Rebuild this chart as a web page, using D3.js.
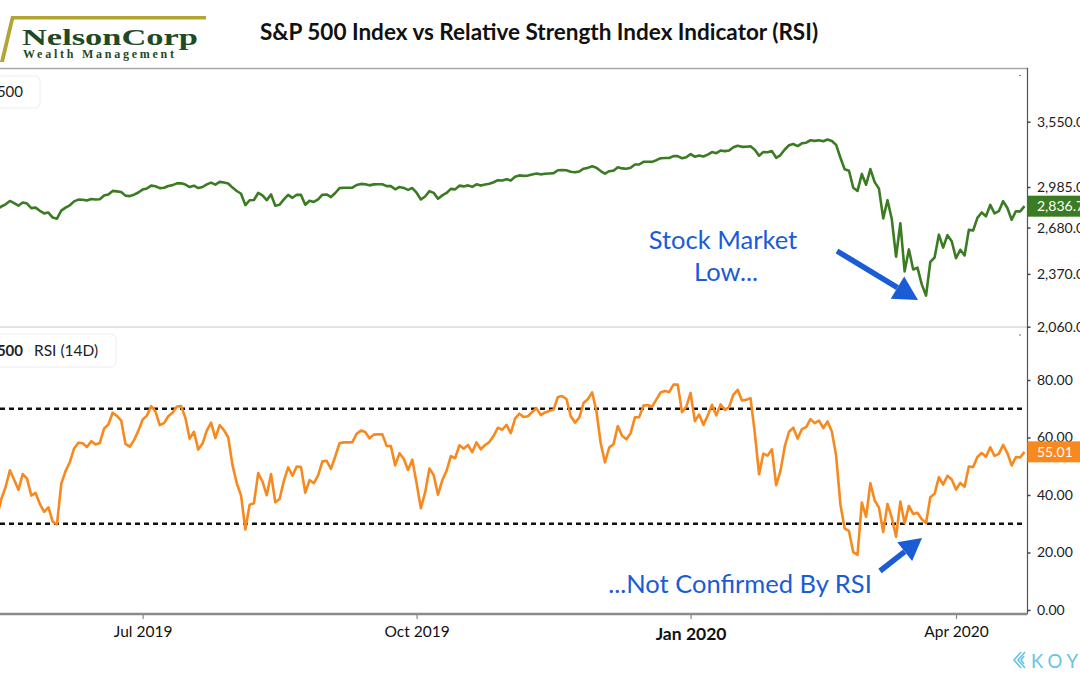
<!DOCTYPE html>
<html><head><meta charset="utf-8">
<script src="https://cdn.jsdelivr.net/npm/d3@7"></script>
<style>
html,body{margin:0;padding:0;background:#fff;}
svg{display:block;font-family:Lato,'Open Sans',sans-serif;}
</style>
</head><body>
<script>
// ---------- DATA ----------
const dates = [
"2019-05-08","2019-05-09","2019-05-10","2019-05-13","2019-05-14","2019-05-15","2019-05-16","2019-05-17","2019-05-20","2019-05-21","2019-05-22","2019-05-23","2019-05-24","2019-05-28","2019-05-29","2019-05-30","2019-05-31",
"2019-06-03","2019-06-04","2019-06-05","2019-06-06","2019-06-07","2019-06-10","2019-06-11","2019-06-12","2019-06-13","2019-06-14","2019-06-17","2019-06-18","2019-06-19","2019-06-20","2019-06-21","2019-06-24","2019-06-25","2019-06-26","2019-06-27","2019-06-28",
"2019-07-01","2019-07-02","2019-07-03","2019-07-05","2019-07-08","2019-07-09","2019-07-10","2019-07-11","2019-07-12","2019-07-15","2019-07-16","2019-07-17","2019-07-18","2019-07-19","2019-07-22","2019-07-23","2019-07-24","2019-07-25","2019-07-26","2019-07-29","2019-07-30","2019-07-31",
"2019-08-01","2019-08-02","2019-08-05","2019-08-06","2019-08-07","2019-08-08","2019-08-09","2019-08-12","2019-08-13","2019-08-14","2019-08-15","2019-08-16","2019-08-19","2019-08-20","2019-08-21","2019-08-22","2019-08-23","2019-08-26","2019-08-27","2019-08-28","2019-08-29","2019-08-30",
"2019-09-03","2019-09-04","2019-09-05","2019-09-06","2019-09-09","2019-09-10","2019-09-11","2019-09-12","2019-09-13","2019-09-16","2019-09-17","2019-09-18","2019-09-19","2019-09-20","2019-09-23","2019-09-24","2019-09-25","2019-09-26","2019-09-27","2019-09-30",
"2019-10-01","2019-10-02","2019-10-03","2019-10-04","2019-10-07","2019-10-08","2019-10-09","2019-10-10","2019-10-11","2019-10-14","2019-10-15","2019-10-16","2019-10-17","2019-10-18","2019-10-21","2019-10-22","2019-10-23","2019-10-24","2019-10-25","2019-10-28","2019-10-29","2019-10-30","2019-10-31",
"2019-11-01","2019-11-04","2019-11-05","2019-11-06","2019-11-07","2019-11-08","2019-11-11","2019-11-12","2019-11-13","2019-11-14","2019-11-15","2019-11-18","2019-11-19","2019-11-20","2019-11-21","2019-11-22","2019-11-25","2019-11-26","2019-11-27","2019-11-29",
"2019-12-02","2019-12-03","2019-12-04","2019-12-05","2019-12-06","2019-12-09","2019-12-10","2019-12-11","2019-12-12","2019-12-13","2019-12-16","2019-12-17","2019-12-18","2019-12-19","2019-12-20","2019-12-23","2019-12-24","2019-12-26","2019-12-27","2019-12-30","2019-12-31",
"2020-01-02","2020-01-03","2020-01-06","2020-01-07","2020-01-08","2020-01-09","2020-01-10","2020-01-13","2020-01-14","2020-01-15","2020-01-16","2020-01-17","2020-01-21","2020-01-22","2020-01-23","2020-01-24","2020-01-27","2020-01-28","2020-01-29","2020-01-30","2020-01-31",
"2020-02-03","2020-02-04","2020-02-05","2020-02-06","2020-02-07","2020-02-10","2020-02-11","2020-02-12","2020-02-13","2020-02-14","2020-02-18","2020-02-19","2020-02-20","2020-02-21","2020-02-24","2020-02-25","2020-02-26","2020-02-27","2020-02-28",
"2020-03-02","2020-03-03","2020-03-04","2020-03-05","2020-03-06","2020-03-09","2020-03-10","2020-03-11","2020-03-12","2020-03-13","2020-03-16","2020-03-17","2020-03-18","2020-03-19","2020-03-20","2020-03-23","2020-03-24","2020-03-25","2020-03-26","2020-03-27","2020-03-30","2020-03-31",
"2020-04-01","2020-04-02","2020-04-03","2020-04-06","2020-04-07","2020-04-08","2020-04-09","2020-04-13","2020-04-14","2020-04-15","2020-04-16","2020-04-17","2020-04-20","2020-04-21","2020-04-22","2020-04-23","2020-04-24"];

const spxClose = [
2879.42,2870.72,2881.40,2811.87,2834.41,2850.96,2876.32,2859.53,2840.23,2864.36,2856.27,2822.24,2826.06,2802.39,2783.02,2788.86,2752.06,
2744.45,2803.27,2826.15,2843.49,2873.34,2886.73,2885.72,2879.84,2891.64,2886.98,2889.67,2917.75,2926.46,2954.18,2950.46,2945.35,2917.38,2913.78,2924.92,2941.76,
2964.33,2973.01,2995.82,2990.41,2975.95,2979.63,2993.07,2999.91,3013.77,3014.30,3004.04,2984.42,2995.11,2976.61,2985.03,3005.47,3019.56,3003.67,3025.86,3020.97,3013.18,2980.38,
2953.56,2932.05,2844.74,2881.77,2883.98,2938.09,2918.65,2882.70,2926.32,2840.60,2847.60,2888.68,2923.65,2900.51,2924.43,2922.95,2847.11,2878.38,2869.16,2887.94,2924.58,2926.46,
2906.27,2937.78,2976.00,2978.71,2978.43,2979.39,3000.93,3009.57,3007.39,2997.96,3005.70,3006.73,3006.79,2992.07,2991.78,2966.60,2984.87,2977.62,2961.79,2976.74,
2940.25,2887.61,2910.63,2952.01,2938.79,2893.06,2919.40,2938.13,2970.27,2966.15,2995.68,2989.69,2997.95,2986.20,3006.72,2995.99,3004.52,3010.29,3022.55,3039.42,3036.89,3046.77,3037.56,
3066.91,3078.27,3074.62,3076.78,3085.18,3093.08,3087.01,3091.84,3094.04,3096.63,3120.46,3122.03,3120.18,3108.46,3103.54,3110.29,3133.64,3140.52,3153.63,3140.98,
3113.87,3093.20,3112.76,3117.43,3145.91,3135.96,3132.52,3141.63,3168.57,3168.80,3191.45,3192.52,3191.14,3205.37,3221.22,3224.01,3223.38,3239.91,3240.02,3221.29,3230.78,
3257.85,3234.85,3246.28,3237.18,3253.05,3274.70,3265.35,3288.13,3283.15,3289.29,3316.81,3329.62,3320.79,3321.75,3325.54,3295.47,3243.63,3276.24,3273.40,3283.66,3225.52,
3248.92,3297.59,3334.69,3345.78,3327.71,3352.09,3357.75,3379.45,3373.94,3380.16,3370.29,3386.15,3373.23,3337.75,3225.89,3128.21,3116.39,2978.76,2954.22,
3090.23,3003.37,3130.12,3023.94,2972.37,2746.56,2882.23,2741.38,2480.64,2711.02,2386.13,2529.19,2398.10,2409.39,2304.92,2237.40,2447.33,2475.56,2630.07,2541.47,2626.65,2584.59,
2470.50,2526.90,2488.65,2663.68,2659.41,2749.98,2789.82,2761.63,2846.06,2783.36,2799.55,2874.56,2823.16,2736.56,2799.31,2797.80,2836.74];

const rsi14 = [
44.4,42.3,45.7,32.3,38.6,42.8,48.6,45.3,41.8,47.3,45.7,39.8,
40.7,36.9,34.1,35.7,30.7,29.8,43.9,48.3,51.4,56.2,58.2,58.0,
56.7,58.7,57.6,58.1,63.1,64.5,68.6,67.5,65.9,57.8,56.8,59.1,
62.3,66.2,67.6,70.9,69.1,64.3,65.0,67.4,68.6,70.8,70.9,66.8,
59.6,62.0,55.8,57.9,62.4,65.2,59.8,64.3,62.6,60.0,50.4,44.1,
39.8,28.0,36.6,37.1,47.6,44.7,39.9,47.3,37.5,38.6,44.9,49.6,
46.7,49.9,49.7,40.8,45.2,44.1,46.8,51.7,51.9,49.1,53.4,58.0,
58.3,58.3,58.4,61.3,62.4,61.9,59.7,61.0,61.1,61.1,57.1,57.0,
50.3,54.5,52.6,48.7,52.3,44.1,35.4,40.9,49.2,46.9,40.1,45.1,
48.4,53.5,52.8,57.3,56.1,57.4,54.9,58.3,55.9,57.4,58.4,60.6,
63.4,62.7,64.4,61.5,66.6,68.3,67.1,67.4,68.9,70.2,67.8,68.7,
69.2,69.7,74.1,74.4,73.4,67.5,65.2,66.9,72.0,73.3,75.7,69.3,
58.1,51.3,56.5,57.7,64.0,60.6,59.4,61.5,67.0,67.1,71.1,71.3,
70.7,73.2,75.7,76.2,75.8,78.4,78.4,68.8,70.7,75.5,65.7,68.0,
64.4,67.6,71.4,67.7,71.5,69.6,70.6,74.9,76.6,72.9,73.1,73.7,
61.6,47.2,54.4,53.7,55.9,43.4,48.4,56.9,62.0,63.4,59.6,62.9,
63.6,66.4,65.0,65.9,63.3,65.6,62.1,53.7,36.7,28.3,27.5,20.1,
19.2,37.4,32.4,44.1,38.1,35.6,27.1,36.9,32.1,25.5,37.7,30.2,
36.2,33.4,33.8,31.6,30.2,39.2,40.4,46.2,43.6,46.7,45.4,41.9,
44.2,42.9,49.9,49.7,53.2,54.6,53.3,56.6,53.6,54.3,57.4,54.6,
50.3,53.2,53.1,55.01];

const priceTicks = [2060, 2370, 2680, 2985, 3550];
const rsiTicks = [0, 20, 40, 60, 80];
const rsiLevels = [70, 30];
const xTickDates = ["2019-07-01", "2019-10-01", "2020-01-02", "2020-04-01"];
const xTickLabels = ["Jul 2019", "Oct 2019", "Jan 2020", "Apr 2020"];
const xTickBold = [false, false, true, false];
const lastPriceLabel = "2,836.74";
const lastRsiLabel = "55.01";

// ---------- LAYOUT ----------
const W = 1080, H = 675;
const plotRight = 1027.5, top1 = 68.5, sep = 327, axisY = 614;
const green = "#3b7b23", orange = "#f7891f", annBlue = "#1a5bd6";

const svg = d3.select("body").append("svg").attr("width", W).attr("height", H);

const x = d3.scaleLinear().domain([0, dates.length - 1]).range([-15.8, 1024.5]);
const yP = d3.scaleLog().domain([2060, 3550]).range([326.7, 121.7]);
const yR = d3.scaleLinear().domain([0, 80]).range([610, 380]);

const defs = svg.append("defs");
defs.append("clipPath").attr("id", "clipTop").append("rect")
  .attr("x", 0).attr("y", top1).attr("width", plotRight).attr("height", sep - top1);
defs.append("clipPath").attr("id", "clipBot").append("rect")
  .attr("x", 0).attr("y", sep).attr("width", plotRight).attr("height", axisY - sep);

// ---------- LOGO ----------
const logo = svg.append("g");
logo.append("path")
  .attr("d", "M0,62 L11,16 L206,16 L206,19.5 L14,19.5 L4,62 Z")
  .attr("fill", "#b3a534");
logo.append("text").attr("x", 22).attr("y", 44.5)
  .attr("font-family", "'Liberation Serif','DejaVu Serif',serif").attr("font-weight", "bold")
  .attr("font-size", 24).attr("fill", "#1f4a26")
  .attr("textLength", 176).attr("lengthAdjust", "spacingAndGlyphs").text("NelsonCorp");
logo.append("text").attr("x", 23).attr("y", 58)
  .attr("font-family", "'Liberation Serif','DejaVu Serif',serif").attr("font-weight", "bold")
  .attr("font-size", 12).attr("fill", "#1f4a26")
  .attr("textLength", 151).attr("lengthAdjust", "spacing").text("Wealth Management");

// ---------- TITLE ----------
svg.append("text").attr("x", 539).attr("y", 40).attr("text-anchor", "middle")
  .attr("font-weight", "bold").attr("font-size", 22.5).attr("fill", "#111")
  .text("S&P 500 Index vs Relative Strength Index Indicator (RSI)");

// ---------- FRAME ----------
svg.append("line").attr("x1", 0).attr("x2", plotRight).attr("y1", top1).attr("y2", top1)
  .attr("stroke", "#a8a8a8").attr("stroke-width", 1.5);
svg.append("line").attr("x1", 0).attr("x2", plotRight).attr("y1", sep).attr("y2", sep)
  .attr("stroke", "#e2e2e2").attr("stroke-width", 2);
svg.append("line").attr("x1", plotRight).attr("x2", plotRight).attr("y1", top1 - 0.75).attr("y2", axisY)
  .attr("stroke", "#555").attr("stroke-width", 1.2);

// tiny corner dots
[top1 + 7, sep + 8].forEach(yy => svg.append("circle").attr("cx", 1020).attr("cy", yy).attr("r", 0.8).attr("fill", "#666"));

// ---------- LEGENDS ----------
svg.append("rect").attr("x", -60).attr("y", 76).attr("width", 100).attr("height", 32).attr("rx", 5)
  .attr("fill", "#fff").attr("stroke", "#ececec");
svg.append("text").attr("x", 23).attr("y", 97).attr("text-anchor", "end")
  .attr("font-size", 15).attr("fill", "#222").text("S&P 500");
svg.append("rect").attr("x", -60).attr("y", 334).attr("width", 176).attr("height", 33).attr("rx", 5)
  .attr("fill", "#fff").attr("stroke", "#ececec");
svg.append("text").attr("x", 23).attr("y", 356).attr("text-anchor", "end")
  .attr("font-size", 15).attr("font-weight", "bold").attr("fill", "#222").text("S&P 500");
svg.append("text").attr("x", 34).attr("y", 356)
  .attr("font-size", 15.5).attr("fill", "#222").text("RSI (14D)");

// ---------- RSI reference levels ----------
svg.append("g").attr("clip-path", "url(#clipBot)").selectAll("line").data(rsiLevels).join("line")
  .attr("x1", 0).attr("x2", 1022).attr("y1", d => yR(d)).attr("y2", d => yR(d))
  .attr("stroke", "#111").attr("stroke-width", 2.5).attr("stroke-dasharray", "5,4");

// ---------- LINES ----------
svg.append("path").datum(spxClose).attr("clip-path", "url(#clipTop)")
  .attr("fill", "none").attr("stroke", green).attr("stroke-width", 2.6).attr("stroke-linejoin", "round")
  .attr("d", d3.line().x((d, i) => x(i)).y(d => yP(d)));
svg.append("path").datum(rsi14).attr("clip-path", "url(#clipBot)")
  .attr("fill", "none").attr("stroke", orange).attr("stroke-width", 2.6).attr("stroke-linejoin", "round")
  .attr("d", d3.line().x((d, i) => x(i)).y(d => yR(d)));

// ---------- RIGHT AXES ----------
function styleAxis(g) {
  g.select(".domain").remove();
  g.selectAll(".tick line").attr("stroke", "#444").attr("stroke-width", 1.5);
  g.selectAll(".tick text").attr("font-size", 14).attr("fill", "#222")
    .attr("font-family", "Lato,'Open Sans',sans-serif");
}
svg.append("g").attr("transform", `translate(${plotRight},0)`)
  .call(d3.axisRight(yP).tickValues(priceTicks).tickFormat(d3.format(",.2f")).tickSize(3).tickPadding(6.5))
  .call(styleAxis);
svg.append("g").attr("transform", `translate(${plotRight},0)`)
  .call(d3.axisRight(yR).tickValues(rsiTicks).tickFormat(d3.format(".2f")).tickSize(3).tickPadding(6.5))
  .call(styleAxis);

// last value tags
const lastI = spxClose.length - 1;
const tagP = svg.append("g").attr("transform", `translate(${plotRight},${yP(spxClose[lastI])})`);
tagP.append("rect").attr("x", 0).attr("y", -10.5).attr("width", 60).attr("height", 21).attr("fill", green);
tagP.append("text").attr("x", 9.5).attr("y", 5).attr("font-size", 14).attr("fill", "#fff").text(lastPriceLabel);
const tagR = svg.append("g").attr("transform", `translate(${plotRight},${yR(rsi14[lastI])})`);
tagR.append("rect").attr("x", 0).attr("y", -10.5).attr("width", 60).attr("height", 21).attr("fill", orange);
tagR.append("text").attr("x", 9.5).attr("y", 5).attr("font-size", 14).attr("fill", "#fff").text(lastRsiLabel);

// ---------- BOTTOM AXIS ----------
const xTickIdx = xTickDates.map(d => dates.indexOf(d));
const xa = svg.append("g").attr("transform", `translate(0,${axisY})`)
  .call(d3.axisBottom(x).tickValues(xTickIdx).tickFormat((d, i) => xTickLabels[i]).tickSize(5).tickPadding(8));
xa.select(".domain").remove();
xa.selectAll(".tick line").attr("stroke", "#888").attr("stroke-width", 1.2);
xa.selectAll(".tick text").attr("fill", "#111").attr("font-family", "Lato,'Open Sans',sans-serif")
  .attr("font-size", (d, i) => xTickBold[i] ? 17.5 : 15.5)
  .attr("font-weight", (d, i) => xTickBold[i] ? "bold" : "normal")
  .attr("dy", (d, i) => xTickBold[i] ? "0.76em" : "0.66em");
svg.append("line").attr("x1", 0).attr("x2", plotRight).attr("y1", axisY).attr("y2", axisY)
  .attr("stroke", "#8a8a8a").attr("stroke-width", 2.5);

// ---------- ANNOTATIONS ----------
const ann = svg.append("g").attr("fill", annBlue).attr("font-size", 25.5).attr("text-anchor", "middle");
ann.append("text").attr("x", 723).attr("y", 248.5).text("Stock Market");
ann.append("text").attr("x", 726).attr("y", 280.5).text("Low...");
ann.append("text").attr("x", 740).attr("y", 593).text("...Not Confirmed By RSI");

function arrow(x1, y1, x2, y2, headLen, headW, w) {
  const a = Math.atan2(y2 - y1, x2 - x1);
  const bx = x2 - headLen * Math.cos(a), by = y2 - headLen * Math.sin(a);
  svg.append("line").attr("x1", x1).attr("y1", y1).attr("x2", bx).attr("y2", by)
    .attr("stroke", annBlue).attr("stroke-width", w);
  const px = -Math.sin(a) * headW, py = Math.cos(a) * headW;
  svg.append("polygon").attr("points",
    `${x2},${y2} ${bx + px},${by + py} ${bx - px},${by - py}`).attr("fill", annBlue);
}
arrow(837, 251, 918, 300, 24, 13, 5.5);
arrow(880, 571, 922, 538, 22, 12, 5.5);

// ---------- KOYFIN WATERMARK ----------
const k = svg.append("g").attr("stroke", "#66c4e3").attr("fill", "none").attr("stroke-width", 1.6);
k.append("path").attr("d", "M1021,652 L1014,660 L1021,668");
k.append("path").attr("d", "M1025,652 L1018,660 L1025,668");
k.append("path").attr("d", "M1024,656 L1021,660 L1024,664");
svg.append("text").attr("x", 1031).attr("y", 667.5).attr("font-size", 18.5)
  .attr("letter-spacing", 5).attr("fill", "#66c4e3").text("KOYFIN");
</script>
</body></html>
